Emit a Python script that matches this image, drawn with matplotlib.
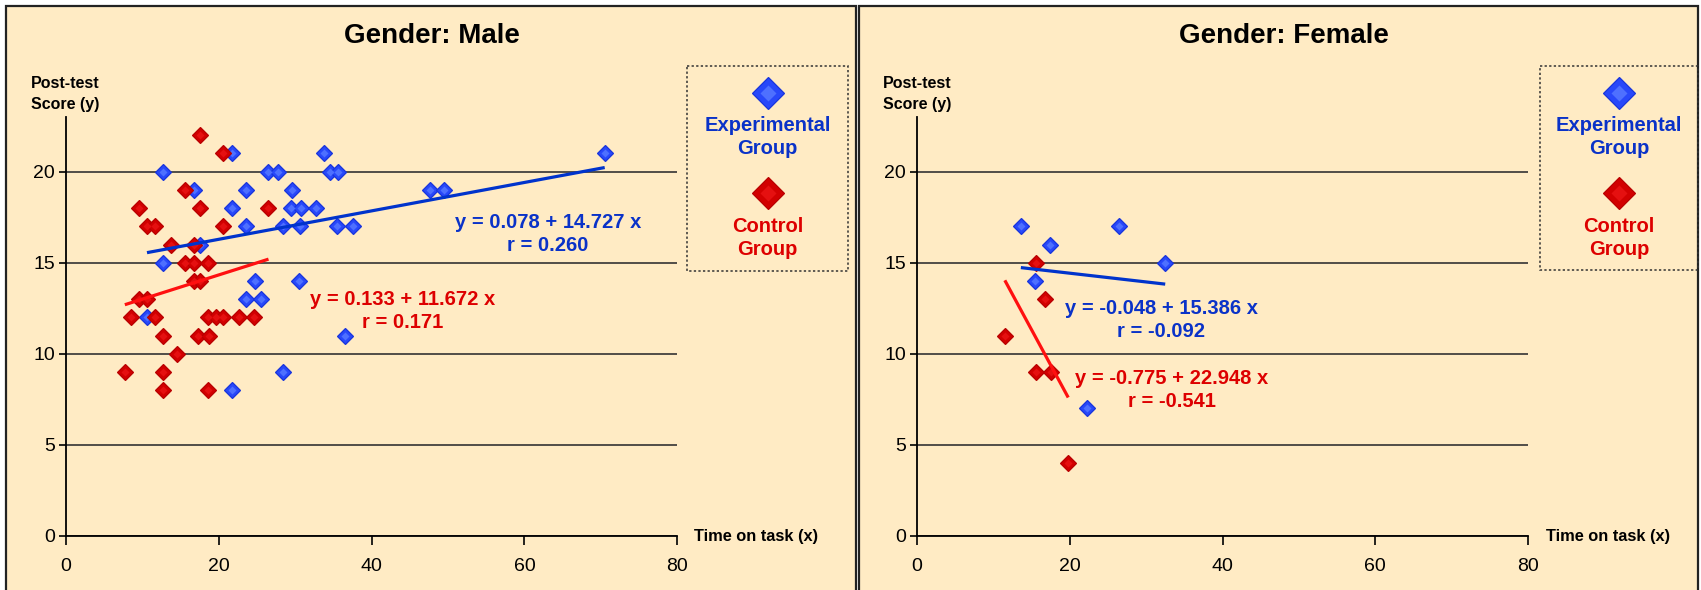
import matplotlib
matplotlib.use('Agg')
import matplotlib.pyplot as plt
from matplotlib.patches import Rectangle
import numpy as np

plt.rcParams['font.family'] = ['Liberation Sans', 'DejaVu Sans']

# ---------------- data ----------------
male_exp_x = [21.7, 33.7, 12.7, 26.5, 27.7, 34.5, 35.6, 16.7, 23.6, 29.6, 47.6, 49.5,
              21.7, 29.5, 30.7, 32.7, 23.6, 28.4, 30.6, 35.5, 37.5, 17.5, 12.7, 24.7,
              30.5, 23.6, 25.5, 10.6, 36.5, 28.4, 21.7, 70.5]
male_exp_y = [21, 21, 20, 20, 20, 20, 20, 19, 19, 19, 19, 19,
              18, 18, 18, 18, 17, 17, 17, 17, 17, 16, 15, 14,
              14, 13, 13, 12, 11, 9, 8, 21]
male_ctl_x = [17.5, 20.5, 15.6, 9.6, 17.5, 26.5, 10.6, 11.6, 20.5, 13.7, 16.7, 15.6,
              16.7, 18.6, 16.7, 17.5, 9.6, 10.6, 8.5, 11.6, 18.6, 19.6, 20.6, 22.6,
              24.6, 12.7, 17.3, 18.7, 14.5, 7.7, 12.7, 12.7, 18.6]
male_ctl_y = [22, 21, 19, 18, 18, 18, 17, 17, 17, 16, 16, 15,
              15, 15, 14, 14, 13, 13, 12, 12, 12, 12, 12, 12,
              12, 11, 11, 11, 10, 9, 9, 8, 8]
female_exp_x = [13.6, 17.4, 26.5, 32.5, 15.5, 22.3]
female_exp_y = [17, 16, 17, 15, 14, 7]
female_ctl_x = [15.6, 16.8, 11.5, 15.6, 17.6, 19.8]
female_ctl_y = [15, 13, 11, 9, 9, 4]

# regression (intercept, slope) and printed labels
male_exp_fit = (14.727, 0.078)
male_ctl_fit = (11.672, 0.133)
female_exp_fit = (15.386, -0.048)
female_ctl_fit = (22.948, -0.775)
male_exp_label = "y = 0.078 + 14.727 x\nr = 0.260"
male_ctl_label = "y = 0.133 + 11.672 x\nr = 0.171"
female_exp_label = "y = -0.048 + 15.386 x\nr = -0.092"
female_ctl_label = "y = -0.775 + 22.948 x\nr = -0.541"

titles = ["Gender: Male", "Gender: Female"]
x_ticks = [0, 20, 40, 60, 80]
y_ticks = [0, 5, 10, 15, 20]
legend_labels = ["Experimental\nGroup", "Control\nGroup"]

# ---------------- style ----------------
W, H = 1701, 590
BG = '#FFEBC4'
BLUE_FACE, BLUE_EDGE, BLUE_HI = '#2848FA', '#1834DC', '#4E70FF'
RED_FACE, RED_EDGE, RED_HI = '#D20000', '#B80000', '#E51010'
BLUE_TXT, RED_TXT = '#0A32C8', '#DD0000'
BLUE_LINE, RED_LINE = '#0033CC', '#FF1010'

fig = plt.figure(figsize=(W / 100, H / 100), dpi=100)
fig.patch.set_facecolor('white')

bg = fig.add_axes([0, 0, 1, 1], zorder=0)
bg.set_xlim(0, W)
bg.set_ylim(H, 0)
bg.axis('off')

top = fig.add_axes([0, 0, 1, 1], zorder=5)
top.set_xlim(0, W)
top.set_ylim(H, 0)
top.axis('off')
top.patch.set_alpha(0)


def diamond(ax, x, y, face, edge, hi, ms, **kw):
    ax.plot(x, y, 'D', ms=ms, mfc=face, mec=edge, mew=0.9, ls='none', **kw)
    ax.plot(x, y, 'D', ms=ms * 0.5, mfc=hi, mec='none', ls='none', **kw)


panels = [
    dict(frame=(6, 6, 856, 620), ax=(66, 677.3), title_x=432, lab_x=31,
         time_x=694, leg=(687, 66, 848, 271),
         ex=male_exp_x, ey=male_exp_y, cx=male_ctl_x, cy=male_ctl_y,
         efit=male_exp_fit, cfit=male_ctl_fit,
         elab=male_exp_label, clab=male_ctl_label,
         epos=(548, 234), cpos=(403, 311)),
    dict(frame=(859, 6, 1698, 620), ax=(917, 1528), title_x=1284, lab_x=883,
         time_x=1546, leg=(1540, 66, 1698, 270),
         ex=female_exp_x, ey=female_exp_y, cx=female_ctl_x, cy=female_ctl_y,
         efit=female_exp_fit, cfit=female_ctl_fit,
         elab=female_exp_label, clab=female_ctl_label,
         epos=(1161, 320), cpos=(1172, 390)),
]

y0_px, ytop_px = 536, 117

for i, p in enumerate(panels):
    fx0, fy0, fx1, fy1 = p['frame']
    bg.add_patch(Rectangle((fx0, fy0), fx1 - fx0, fy1 - fy0, facecolor=BG,
                           edgecolor='#222222', lw=1.6))
    bg.text(p['title_x'], 36, titles[i], ha='center', va='center',
            fontsize=20, fontweight='bold', color='black')
    bg.text(p['lab_x'], 83, "Post-test", ha='left', va='center',
            fontsize=11.5, fontweight='bold')
    bg.text(p['lab_x'], 105, "Score (y)", ha='left', va='center',
            fontsize=11.5, fontweight='bold')
    bg.text(p['time_x'], 537, "Time on task (x)", ha='left', va='center',
            fontsize=11.8, fontweight='bold')
    # legend box
    lx0, ly0, lx1, ly1 = p['leg']
    bg.add_patch(Rectangle((lx0, ly0), lx1 - lx0, ly1 - ly0, facecolor='none',
                           edgecolor='#333333', lw=1.1, ls=(0, (1.5, 1.5))))
    lc = (lx0 + lx1) / 2
    diamond(bg, [lc], [93], BLUE_FACE, BLUE_EDGE, BLUE_HI, 16)
    bg.text(lc, 137, legend_labels[0], ha='center', va='center', fontsize=14.5,
            fontweight='bold', color=BLUE_TXT, linespacing=1.3)
    diamond(bg, [lc], [193], RED_FACE, RED_EDGE, RED_HI, 16)
    bg.text(lc, 238, legend_labels[1], ha='center', va='center', fontsize=14.5,
            fontweight='bold', color=RED_TXT, linespacing=1.3)

    # data axes
    ax_l, ax_r = p['ax']
    ax = fig.add_axes([ax_l / W, (H - y0_px) / H, (ax_r - ax_l) / W,
                       (y0_px - ytop_px) / H], zorder=2)
    ax.set_facecolor('none')
    ax.set_xlim(0, 80)
    ax.set_ylim(0, 23)
    ax.set_xticks(x_ticks)
    ax.set_yticks(y_ticks)
    ax.tick_params(axis='x', direction='out', length=6.5, width=1.2,
                   labelsize=14, pad=9)
    ax.tick_params(axis='y', direction='out', length=5, width=1.2,
                   labelsize=14, pad=3)
    for s in ['top', 'right']:
        ax.spines[s].set_visible(False)
    for s in ['left', 'bottom']:
        ax.spines[s].set_linewidth(1.3)
        ax.spines[s].set_color('black')
    ax.yaxis.grid(True, color='#333333', lw=1.2)
    ax.set_axisbelow(True)

    diamond(ax, p['ex'], p['ey'], BLUE_FACE, BLUE_EDGE, BLUE_HI, 8.6,
            clip_on=False, zorder=3)
    diamond(ax, p['cx'], p['cy'], RED_FACE, RED_EDGE, RED_HI, 8.6,
            clip_on=False, zorder=4)

    for xs, fit, col in [(p['ex'], p['efit'], BLUE_LINE),
                         (p['cx'], p['cfit'], RED_LINE)]:
        xx = np.array([min(xs), max(xs)])
        ax.plot(xx, fit[0] + fit[1] * xx, color=col, lw=2.3, zorder=5,
                solid_capstyle='butt')

    top.text(*p['epos'], p['elab'], ha='center', va='center', fontsize=14.5,
             fontweight='bold', color=BLUE_TXT, linespacing=1.3)
    top.text(*p['cpos'], p['clab'], ha='center', va='center', fontsize=14.5,
             fontweight='bold', color=RED_TXT, linespacing=1.3)

fig.savefig('out.png', dpi=100, facecolor='white')
